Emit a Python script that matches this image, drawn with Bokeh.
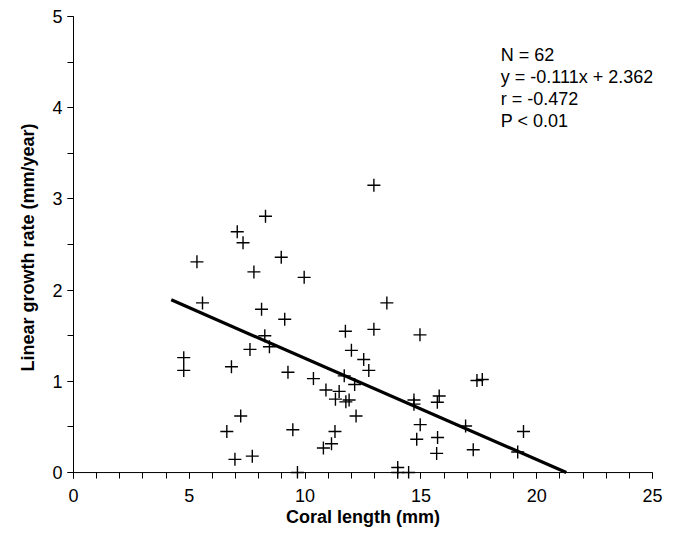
from bokeh.plotting import figure
from bokeh.models import Range1d, SingleIntervalTicker, Span, Label, ColumnDataSource
from bokeh.embed import file_html
from bokeh.resources import INLINE

# ---- data ----
coral_length = [8.29, 7.07, 7.32, 8.97, 5.33, 7.79, 9.96, 5.57, 8.12, 9.12,
                8.26, 8.46, 12.97, 13.53, 11.74, 12.97, 14.96, 7.62, 4.76, 4.76,
                6.82, 9.26, 7.22, 6.62, 9.47, 6.97, 7.72, 9.67, 10.36, 12.00,
                12.53, 12.75, 11.69, 12.14, 10.90, 11.47, 11.31, 11.76, 11.90, 12.20,
                14.70, 14.70, 15.79, 15.71, 17.42, 17.65, 16.93, 19.43, 11.29, 11.14,
                10.79, 14.97, 14.82, 15.72, 15.68, 17.26, 19.18, 14.00, 14.00, 14.47]
growth_rate = [2.81, 2.64, 2.52, 2.36, 2.31, 2.20, 2.14, 1.86, 1.79, 1.68,
               1.50, 1.38, 3.15, 1.86, 1.55, 1.57, 1.51, 1.35, 1.26, 1.12,
               1.16, 1.10, 0.62, 0.45, 0.47, 0.145, 0.18, 0.0, 1.03, 1.34,
               1.24, 1.12, 1.06, 0.965, 0.905, 0.89, 0.805, 0.775, 0.795, 0.62,
               0.795, 0.75, 0.84, 0.77, 1.01, 1.02, 0.51, 0.45, 0.45, 0.315,
               0.27, 0.525, 0.365, 0.385, 0.21, 0.25, 0.225, 0.055, 0.0, 0.0]

slope = -0.111
intercept = 2.362
fit_x_start = 4.22
stats_lines = ["N = 62", "y = -0.111x + 2.362", "r = -0.472", "P < 0.01"]

x_ticks_major = 5
y_ticks_major = 1

FONT = "Liberation Sans"

fit_x = [fit_x_start, -intercept / slope]
fit_y = [slope * v + intercept for v in fit_x]

p = figure(width=664, height=530, output_backend="svg", toolbar_location=None,
           x_range=Range1d(0, 25), y_range=Range1d(-0.0652, 5),
           min_border_left=73, min_border_right=12, min_border_top=16,
           min_border_bottom=52)
p.outline_line_color = None
p.xgrid.grid_line_color = None
p.ygrid.grid_line_color = None
p.background_fill_color = "white"
p.border_fill_color = "white"

# x axis (line drawn as a span at y = 0, ticks pointing down from it)
xa = p.xaxis[0]
xa.ticker = SingleIntervalTicker(interval=x_ticks_major, num_minor_ticks=5)
xa.axis_line_color = None
xa.major_tick_in = 6
xa.major_tick_out = 0
xa.minor_tick_in = 6
xa.minor_tick_out = 0
xa.major_tick_line_color = "black"
xa.minor_tick_line_color = "black"
xa.major_label_text_font = FONT
xa.major_label_text_font_size = "18px"
xa.major_label_text_color = "black"
xa.major_label_standoff = 10
xa.axis_label = "Coral length (mm)"
xa.axis_label_text_font = FONT
xa.axis_label_text_font_size = "18px"
xa.axis_label_text_font_style = "bold"
xa.axis_label_text_color = "black"
xa.axis_label_standoff = 2

p.add_layout(Span(location=0, dimension="width", line_color="black", line_width=1))

ya = p.yaxis[0]
ya.ticker = SingleIntervalTicker(interval=y_ticks_major, num_minor_ticks=2)
ya.bounds = (0, 5)
ya.axis_line_color = "black"
ya.major_tick_in = 0
ya.major_tick_out = 6
ya.minor_tick_in = 0
ya.minor_tick_out = 6
ya.major_tick_line_color = "black"
ya.minor_tick_line_color = "black"
ya.major_label_text_font = FONT
ya.major_label_text_font_size = "18px"
ya.major_label_text_color = "black"
ya.major_label_standoff = 5
ya.axis_label = "Linear growth rate (mm/year)"
ya.axis_label_text_font = FONT
ya.axis_label_text_font_size = "18px"
ya.axis_label_text_font_style = "bold"
ya.axis_label_text_color = "black"
ya.axis_label_standoff = 11

src = ColumnDataSource(dict(x=coral_length, y=growth_rate))
p.scatter("x", "y", source=src, marker="cross", size=13, line_color="black",
          line_width=1.4)
p.line(fit_x, fit_y, line_color="black", line_width=3.2)

text_x = 18.45
text_top = 4.58
line_step = 0.2425
for i, s in enumerate(stats_lines):
    p.add_layout(Label(x=text_x, y=text_top - i * line_step, text=s,
                       text_font=FONT, text_font_size="18px", text_color="black",
                       text_baseline="alphabetic", text_align="left"))

open("out.html", "w").write(file_html(p, INLINE))
